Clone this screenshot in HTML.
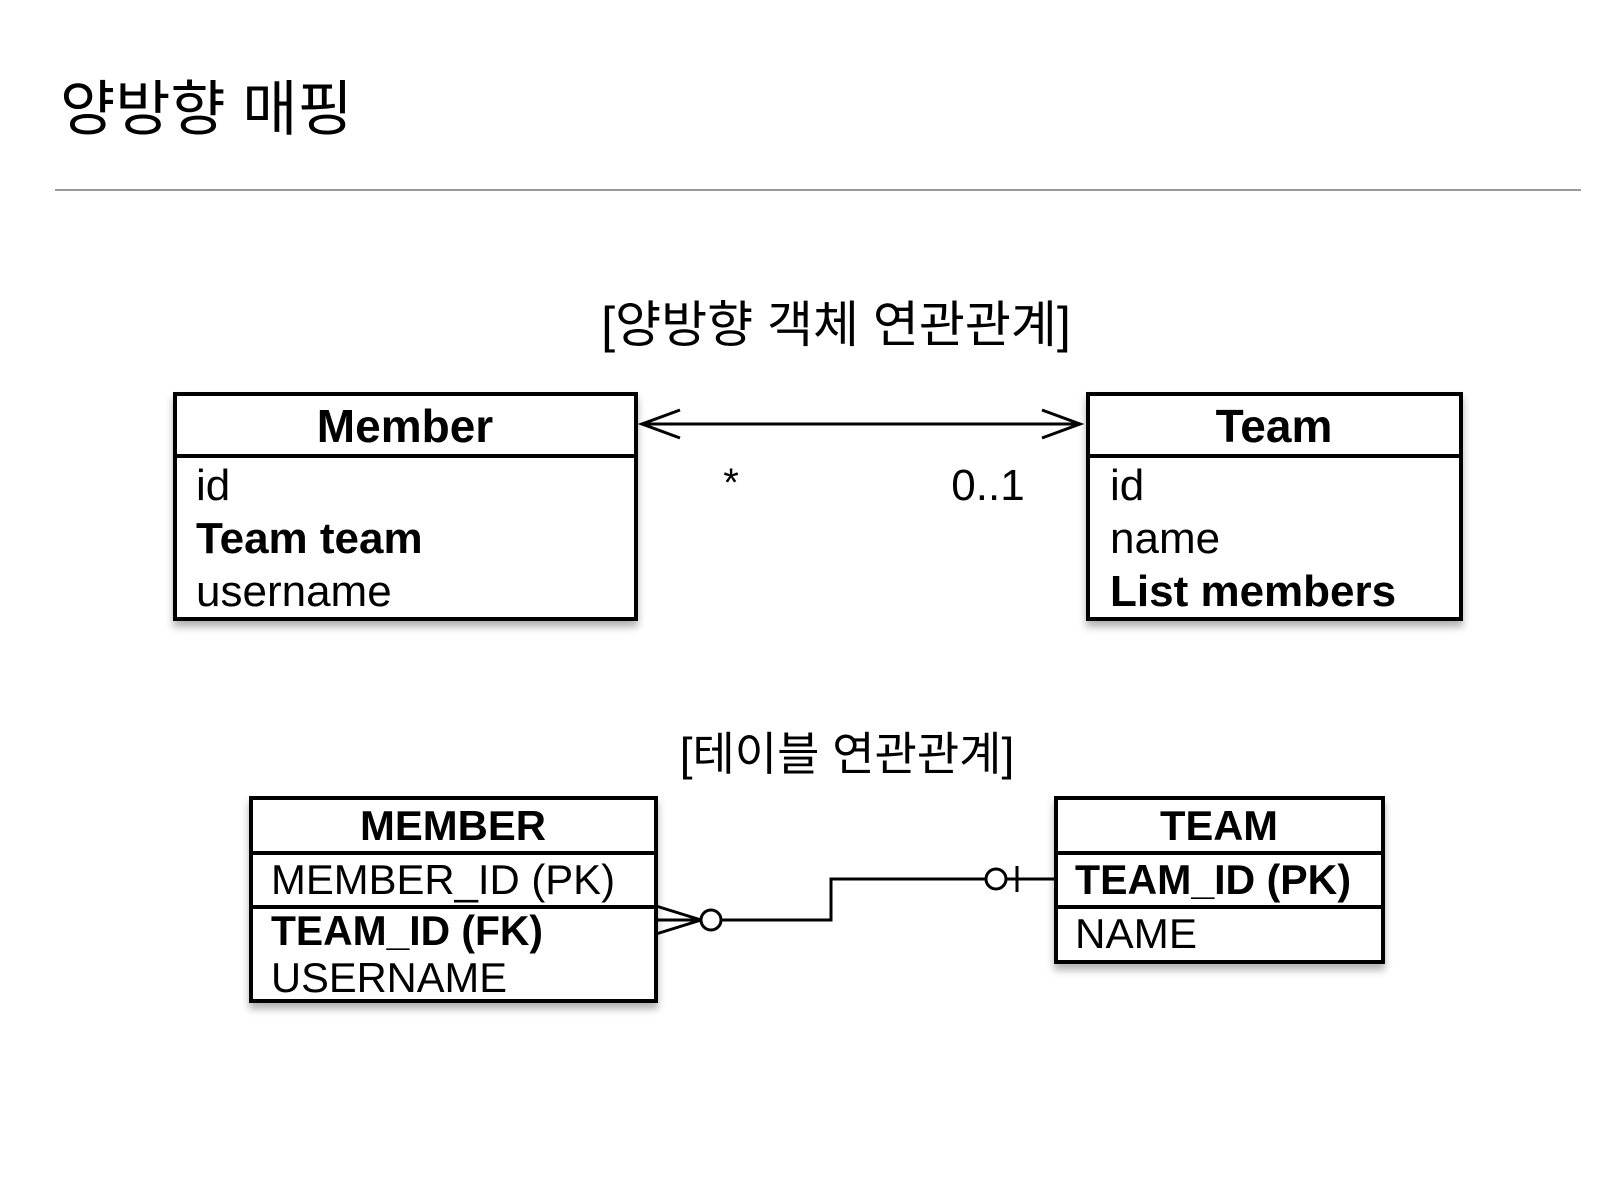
<!DOCTYPE html>
<html><head><meta charset="utf-8"><style>
body{margin:0;background:#fff;}
svg text{font-family:"Liberation Sans","Noto Sans CJK KR",sans-serif;fill:#000;}
</style></head><body>
<svg width="1607" height="1181" viewBox="0 0 1607 1181" xmlns="http://www.w3.org/2000/svg">
<defs><filter id="sh" x="-5%" y="-5%" width="110%" height="120%"><feDropShadow dx="0" dy="6" stdDeviation="4" flood-color="#000" flood-opacity="0.3"/></filter></defs>
<text x="60" y="130" font-size="60">양방향 매핑</text>
<line x1="55" y1="190" x2="1581" y2="190" stroke="#999" stroke-width="2"/>
<text x="836" y="342" font-size="50" text-anchor="middle">[양방향 객체 연관관계]</text>

<rect x="175" y="394" width="461" height="225" fill="#fff" stroke="#000" stroke-width="4" filter="url(#sh)"/>
<line x1="175" y1="456" x2="636" y2="456" stroke="#000" stroke-width="4"/>
<text x="405" y="442" font-size="46" font-weight="bold" text-anchor="middle">Member</text>
<text x="196" y="500" font-size="44">id</text>
<text x="196" y="553" font-size="44" font-weight="bold">Team team</text>
<text x="196" y="606" font-size="44">username</text>

<rect x="1088" y="394" width="373" height="225" fill="#fff" stroke="#000" stroke-width="4" filter="url(#sh)"/>
<line x1="1088" y1="456" x2="1461" y2="456" stroke="#000" stroke-width="4"/>
<text x="1274" y="442" font-size="46" font-weight="bold" text-anchor="middle">Team</text>
<text x="1110" y="500" font-size="44">id</text>
<text x="1110" y="553" font-size="44">name</text>
<text x="1110" y="606" font-size="44" font-weight="bold">List members</text>

<line x1="642" y1="424" x2="1080" y2="424" stroke="#000" stroke-width="3"/>
<polyline points="680,410 642,424 680,438" fill="none" stroke="#000" stroke-width="3"/>
<polyline points="1042,410 1080,424 1042,438" fill="none" stroke="#000" stroke-width="3"/>
<text x="731" y="496" font-size="40" text-anchor="middle">*</text>
<text x="988" y="500" font-size="44" text-anchor="middle">0..1</text>

<text x="847" y="770" font-size="46" text-anchor="middle">[테이블 연관관계]</text>

<rect x="251" y="798" width="405" height="203" fill="#fff" stroke="#000" stroke-width="4" filter="url(#sh)"/>
<line x1="251" y1="853" x2="656" y2="853" stroke="#000" stroke-width="4"/>
<line x1="251" y1="907" x2="656" y2="907" stroke="#000" stroke-width="4"/>
<text x="453" y="840" font-size="42" font-weight="bold" text-anchor="middle" textLength="186" lengthAdjust="spacingAndGlyphs">MEMBER</text>
<text x="271" y="894" font-size="42" textLength="344" lengthAdjust="spacingAndGlyphs">MEMBER_ID (PK)</text>
<text x="271" y="945" font-size="42" font-weight="bold" textLength="272" lengthAdjust="spacingAndGlyphs">TEAM_ID (FK)</text>
<text x="271" y="992" font-size="42" textLength="236" lengthAdjust="spacingAndGlyphs">USERNAME</text>

<rect x="1056" y="798" width="327" height="164" fill="#fff" stroke="#000" stroke-width="4" filter="url(#sh)"/>
<line x1="1056" y1="853" x2="1383" y2="853" stroke="#000" stroke-width="4"/>
<line x1="1056" y1="907" x2="1383" y2="907" stroke="#000" stroke-width="4"/>
<text x="1219" y="840" font-size="42" font-weight="bold" text-anchor="middle" textLength="118" lengthAdjust="spacingAndGlyphs">TEAM</text>
<text x="1075" y="894" font-size="42" font-weight="bold" textLength="276" lengthAdjust="spacingAndGlyphs">TEAM_ID (PK)</text>
<text x="1075" y="948" font-size="42" textLength="122" lengthAdjust="spacingAndGlyphs">NAME</text>

<polyline points="656,906 701,920 656,934" fill="none" stroke="#000" stroke-width="3"/>
<line x1="656" y1="920" x2="701" y2="920" stroke="#000" stroke-width="3"/>
<circle cx="711" cy="920" r="10" fill="#fff" stroke="#000" stroke-width="3"/>
<polyline points="721,920 831,920 831,879 986,879" fill="none" stroke="#000" stroke-width="3"/>
<circle cx="996" cy="879" r="10" fill="#fff" stroke="#000" stroke-width="3"/>
<line x1="1006" y1="879" x2="1054" y2="879" stroke="#000" stroke-width="3"/>
<line x1="1017" y1="866" x2="1017" y2="892" stroke="#000" stroke-width="3"/>
</svg>
</body></html>
